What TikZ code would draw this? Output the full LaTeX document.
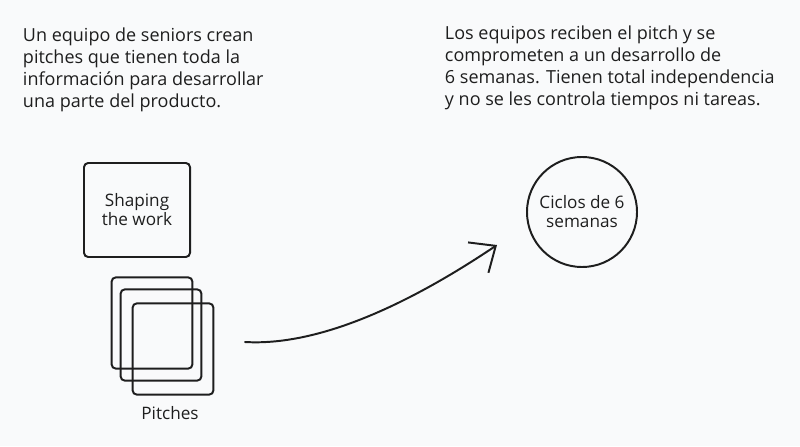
\documentclass[tikz,border=0pt]{standalone}
\usepackage{fontspec}
\setmainfont{Open Sans}
\usetikzlibrary{arrows.meta}
\definecolor{ink}{HTML}{1E1E1E}
\definecolor{paper}{HTML}{F9FAFB}
\begin{document}
\begin{tikzpicture}[x=0.025cm, y=-0.025cm, color=ink, line width=1.4pt,
    line cap=round, line join=round,
    note/.style={align=left, inner sep=0pt, font=\fontsize{12.8}{15.6}\selectfont},
    label text/.style={align=center, font=\fontsize{12.2}{13.5}\selectfont},
    shapebox/.style={draw, rectangle, rounded corners=3pt, minimum width=2.65cm, minimum height=2.35cm},
    pitchbox/.style={draw, rectangle, rounded corners=3pt, minimum width=2.02cm, minimum height=2.28cm}]
  % Background and size
  \fill[paper] (0,0) rectangle (800,446);

  % Texts on top
  \node[note, anchor=north west] (izq) at (22,27)
    {Un equipo de seniors crean\\pitches que tienen toda la\\informaci\'on para desarrollar\\una parte del producto.};
  \node[note, anchor=north west] (der) at (444,25)
    {Los equipos reciben el pitch y se\\comprometen a un desarrollo de\\6 semanas. Tienen total independencia\\y no se les controla tiempos ni tareas.};

  % Shaping and pitches
  \node[shapebox, label text] (shaping) at (137,210) {Shaping\\the work};
  \node[pitchbox] (pitch1) at (152,323) {};
  \node[pitchbox] (pitch2) at (161,335) {};
  \node[pitchbox] (pitch3) at (173,349) {};
  \node[label text] (pitches) at (170,413) {Pitches};

  % Cycle
  \node[draw, circle, minimum size=2.75cm, label text] (ciclos) at (582,212) {Ciclos de 6\\semanas};

  % Arrow
  \coordinate (desde) at (245,342);
  \coordinate (hasta) at (497,245);
  \draw[-{Straight Barb[length=15pt, width=26pt]}] (desde) .. controls (330,347) and (430,290) .. (hasta);
\end{tikzpicture}
\end{document}
